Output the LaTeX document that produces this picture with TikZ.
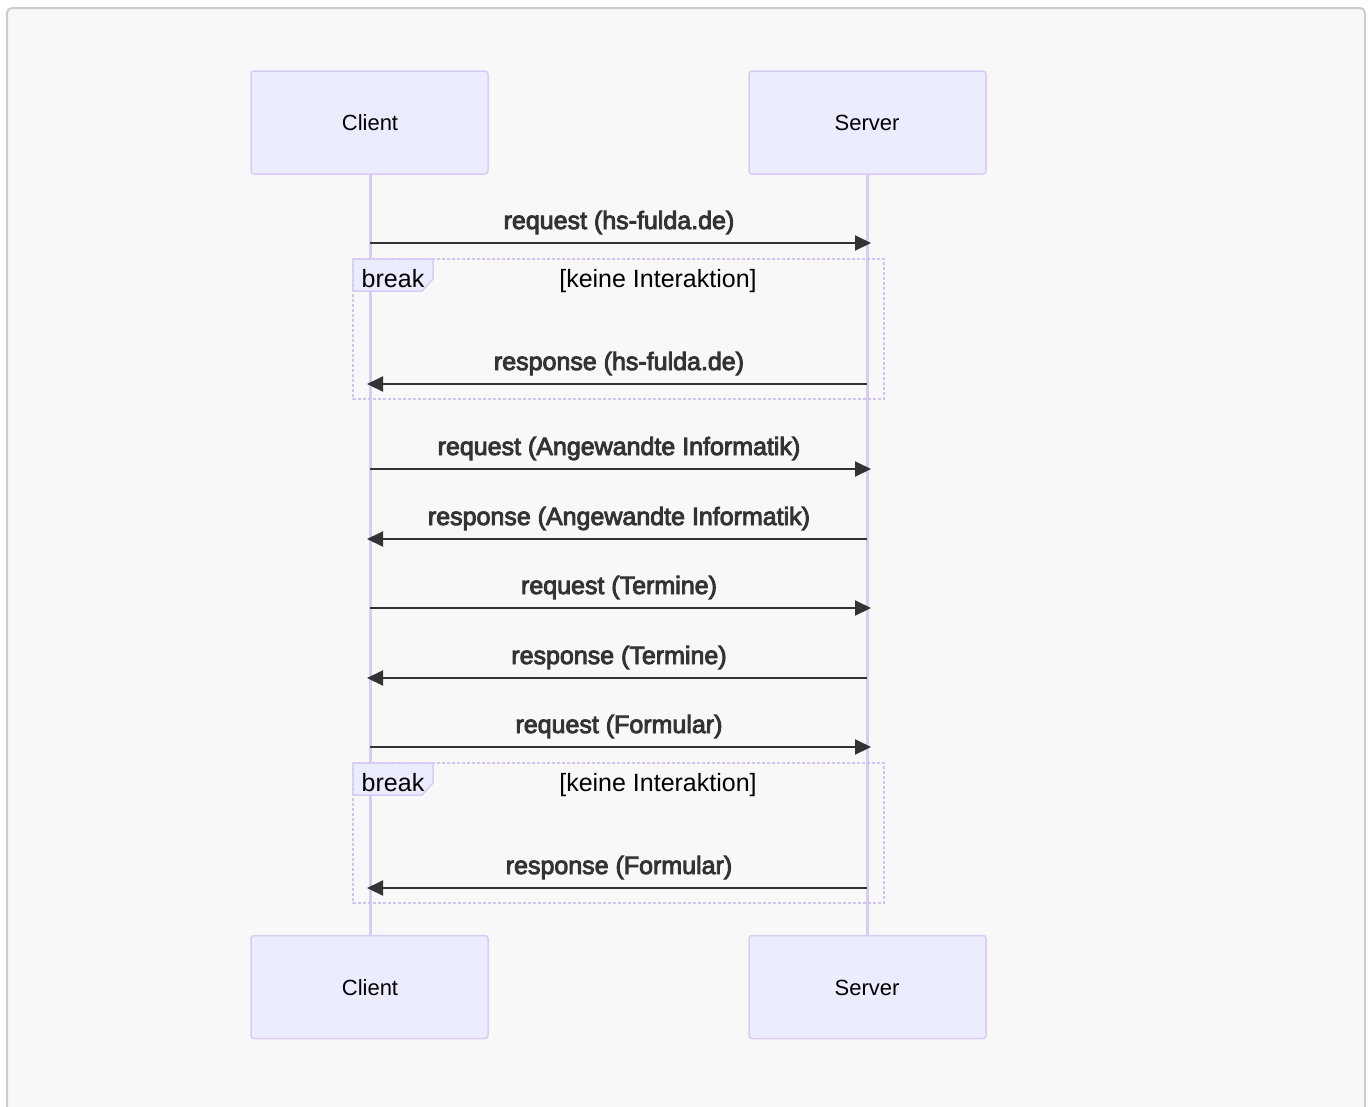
\documentclass[tikz,border=0pt]{standalone}
\usepackage{fontspec}
\setmainfont{Liberation Sans}
\newfontfamily\msgfont[FakeBold=3.5]{Liberation Sans}
\usetikzlibrary{arrows.meta}
\definecolor{actorfill}{HTML}{ECECFF}
\definecolor{actorline}{HTML}{D8CCF4}
\definecolor{loopline}{HTML}{D2C4F2}
\definecolor{txt}{HTML}{333333}
\definecolor{bg}{HTML}{F8F8F8}
\definecolor{frame}{HTML}{CCCCCC}
\tikzset{
  actor/.style={draw=actorline, fill=actorfill, line width=1.5pt, rounded corners=3pt,
    minimum width=237pt, minimum height=103pt, inner sep=0pt},
  actortext/.style={anchor=base, font=\fontsize{22}{26}\selectfont, text=black, inner sep=0pt},
  lifeline/.style={draw=actorline, line width=3pt},
  msg/.style={draw=txt, line width=2pt, -{Triangle[length=16pt, width=15pt]}},
  msglabel/.style={anchor=base, font=\msgfont\fontsize{25}{30}\selectfont, text=txt, inner sep=0pt},
  loopbox/.style={draw=loopline, line width=2.5pt, dash pattern=on 3pt off 2pt},
  looptab/.style={draw=actorline, fill=actorfill, line width=1.5pt},
  looptext/.style={anchor=base, font=\fontsize{25}{30}\selectfont, text=black, inner sep=0pt},
}
\begin{document}
\begin{tikzpicture}[x=1pt, y=-1pt]
\useasboundingbox (0,0) rectangle (1368,1106);
\fill[white] (0,0) rectangle (1368,1106);
\draw[draw=frame, fill=bg, line width=2pt, rounded corners=5pt] (7,8) rectangle (1365,1130);

% actors
\node[actor] (ct) at (369.5,122.5) {};
\node[actor] (st) at (867.5,122.5) {};
\node[actor] (cb) at (369.5,987) {};
\node[actor] (sb) at (867.5,987) {};
\node[actortext] (ctt) at (370,130) {Client};
\node[actortext] (stt) at (867,130) {Server};
\node[actortext] (cbt) at (370,995) {Client};
\node[actortext] (sbt) at (867,995) {Server};

% lifelines
\draw[lifeline] (ct.south -| 370,0) -- (cb.north -| 370,0);
\draw[lifeline] (st.south -| 867,0) -- (sb.north -| 867,0);

% break boxes
\draw[loopbox] (353,259) rectangle (884,399);
\draw[looptab] (353,259) -- (433,259) -- (433,279) -- (422,291) -- (353,291) -- cycle;
\node[looptext] (b1) at (393,287) {break};
\node[looptext] (b1t) at (658,287) {[keine Interaktion]};

\draw[loopbox] (353,763) rectangle (884,903);
\draw[looptab] (353,763) -- (433,763) -- (433,783) -- (422,795) -- (353,795) -- cycle;
\node[looptext] (b2) at (393,791) {break};
\node[looptext] (b2t) at (658,791) {[keine Interaktion]};

% message coordinates
\foreach \n/\y in {1/243,3/469,5/608,7/747}{
  \coordinate (c\n) at (370,\y);
  \coordinate (s\n) at (871,\y);
}
\foreach \n/\y in {2/384,4/539,6/678,8/888}{
  \coordinate (s\n) at (867,\y);
  \coordinate (c\n) at (367,\y);
}

\draw[msg] (c1) -- (s1);
\draw[msg] (s2) -- (c2);
\draw[msg] (c3) -- (s3);
\draw[msg] (s4) -- (c4);
\draw[msg] (c5) -- (s5);
\draw[msg] (s6) -- (c6);
\draw[msg] (c7) -- (s7);
\draw[msg] (s8) -- (c8);

\node[msglabel] (l1) at (619,229) {request (hs-fulda.de)};
\node[msglabel] (l2) at (619,370) {response (hs-fulda.de)};
\node[msglabel] (l3) at (619,455) {request (Angewandte Informatik)};
\node[msglabel] (l4) at (619,525) {response (Angewandte Informatik)};
\node[msglabel] (l5) at (619,594) {request (Termine)};
\node[msglabel] (l6) at (619,664) {response (Termine)};
\node[msglabel] (l7) at (619,733) {request (Formular)};
\node[msglabel] (l8) at (619,874) {response (Formular)};
\end{tikzpicture}
\end{document}
